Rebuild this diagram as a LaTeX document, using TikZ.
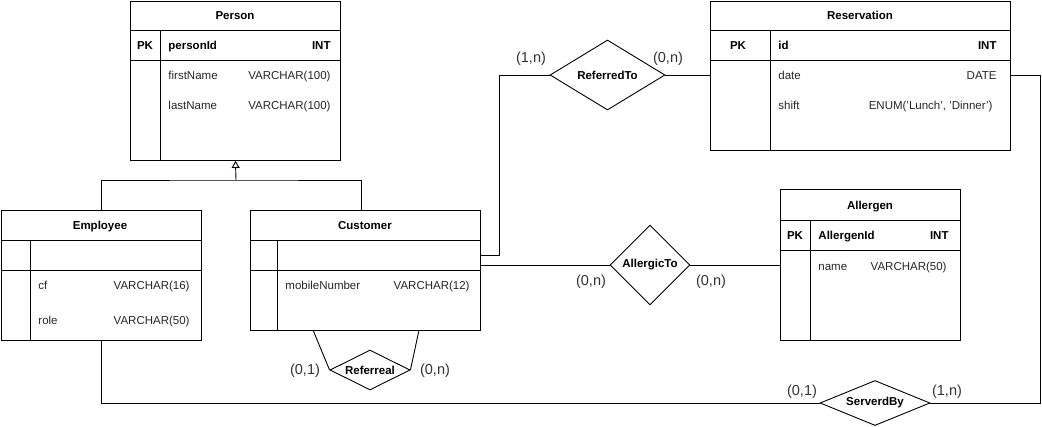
\documentclass[tikz,border=0pt]{standalone}
\usepackage{fontspec}
\setmainfont{Liberation Sans}
\usetikzlibrary{shapes.geometric}
\usetikzlibrary{arrows.meta}
\usetikzlibrary{calc}

\begin{document}
\begin{tikzpicture}[x=1pt, y=-1pt, line width=0.9pt]
	\tikzset{tablebox/.style = {draw, rectangle, anchor = north west, inner sep = 0},
		attr/.style = {inner sep = 0, text height = 10pt, text depth = 2pt, text = black!85, font = \fontsize{11.5}{13}\selectfont},
		keyattr/.style = {inner sep = 0, text height = 10pt, text depth = 2pt, font = \fontsize{11.5}{13}\selectfont\bfseries},
		relation/.style = {diamond, draw, inner sep = 0, fill = white, font = \fontsize{11.5}{13}\selectfont\bfseries},
		card/.style = {inner sep = 0, text = black!80, font = \fontsize{14.5}{16}\selectfont}}

\useasboundingbox (0,0) rectangle (1042,426);

%% Person table
\node[tablebox, minimum width = 210, minimum height = 159] (person) at (130,1) {};
\draw (130,30) -- (340,30) (130,60) -- (340,60) (160,30) -- (160,160);
\node[keyattr] (person title) at (235,15) {Person};
\node[keyattr] (person pk) at (145,45) {PK};
\node[keyattr, anchor = west] (person id) at (168,45) {personId};
\node[keyattr, anchor = east] (person id type) at (331,45) {INT};
\node[attr, anchor = west] (person first) at (168,75) {firstName};
\node[attr, anchor = east] (person first type) at (331,75) {VARCHAR(100)};
\node[attr, anchor = west] (person last) at (168,105) {lastName};
\node[attr, anchor = east] (person last type) at (331,105) {VARCHAR(100)};

%% Reservation table
\node[tablebox, minimum width = 300, minimum height = 149] (reservation) at (710,1) {};
\draw (710,30) -- (1010,30) (710,60) -- (1010,60) (770,30) -- (770,150);
\node[keyattr] (reservation title) at (860,15) {Reservation};
\node[keyattr] (reservation pk) at (738,45) {PK};
\node[keyattr, anchor = west] (reservation id) at (778,45) {id};
\node[keyattr, anchor = east] (reservation id type) at (997,45) {INT};
\node[attr, anchor = west] (reservation date) at (778,75) {date};
\node[attr, anchor = east] (reservation date type) at (997,75) {DATE};
\node[attr, anchor = west] (reservation shift) at (778,105) {shift};
\node[attr, anchor = east] (reservation shift type) at (993,105) {ENUM('Lunch', 'Dinner')};

%% Employee table
\node[tablebox, minimum width = 200, minimum height = 130] (employee) at (0.5,210) {};
\draw (0.5,240) -- (200.5,240) (0.5,270) -- (200.5,270) (30,240) -- (30,340);
\node[keyattr] (employee title) at (100,225) {Employee};
\node[attr, anchor = west] (employee cf) at (38,285) {cf};
\node[attr, anchor = east] (employee cf type) at (190,285) {VARCHAR(16)};
\node[attr, anchor = west] (employee role) at (38,320) {role};
\node[attr, anchor = east] (employee role type) at (190,320) {VARCHAR(50)};

%% Customer table
\node[tablebox, minimum width = 230, minimum height = 120] (customer) at (250,210) {};
\draw (250,240) -- (480,240) (250,270) -- (480,270) (277,240) -- (277,330);
\node[keyattr] (customer title) at (365,225) {Customer};
\node[attr, anchor = west] (customer mobile) at (285,285) {mobileNumber};
\node[attr, anchor = east] (customer mobile type) at (470,285) {VARCHAR(12)};

%% Allergen table
\node[tablebox, minimum width = 180, minimum height = 151] (allergen) at (780,189) {};
\draw (780,220) -- (960,220) (780,250) -- (960,250) (810,220) -- (810,340);
\node[keyattr] (allergen title) at (870,205) {Allergen};
\node[keyattr] (allergen pk) at (795,235) {PK};
\node[keyattr, anchor = west] (allergen id) at (818,235) {AllergenId};
\node[keyattr, anchor = east] (allergen id type) at (949,235) {INT};
\node[attr, anchor = west] (allergen name) at (818,266) {name};
\node[attr, anchor = east] (allergen name type) at (947,266) {VARCHAR(50)};

%% Relations
\node[relation, minimum width = 115, minimum height = 70, aspect = 1.6] (referredto) at (607.5,75) {ReferredTo};
\node[relation, minimum width = 80, minimum height = 80, aspect = 1] (allergicto) at (650,265) {AllergicTo};
\node[relation, minimum width = 80, minimum height = 40, aspect = 2] (referreal) at (370,370) {Referreal};
\node[relation, minimum width = 110, minimum height = 45, aspect = 2.4] (serverdby) at (875,403) {ServerdBy};

%% Connection points
\coordinate (isa) at (236,180);
\coordinate (customer ref) at (480,255);
\coordinate (customer allergy) at (480,265);
\coordinate (customer self a) at (313,330);
\coordinate (customer self b) at (419,330);
\coordinate (reservation out) at (1010,75);

%% Edges
\draw[-{Triangle[open, length = 7pt, width = 8pt]}] (isa) -- (person.south);
\draw (employee.north) |- (isa) -| ($(customer.north)+(-4,0)$);
\draw (customer ref) -| ($(referredto.west)+(-50,0)$) -- (referredto.west);
\draw (referredto.east) -- (reservation.west |- referredto.east);
\draw (customer allergy) -- (allergicto.west);
\draw (allergicto.east) -- (allergen.west |- allergicto.east);
\draw (customer self a) -- (referreal.west);
\draw (customer self b) -- (referreal.east);
\draw (employee.south) |- (serverdby.west);
\draw (reservation out) -| ($(serverdby.east)+(110,0)$) -- (serverdby.east);

%% Cardinalities
\node[card] (card ref cust) at (531,59) {(1,n)};
\node[card] (card ref res) at (668,59) {(0,n)};
\node[card] (card all cust) at (591,282) {(0,n)};
\node[card] (card all alg) at (711,282) {(0,n)};
\node[card] (card self a) at (305,371) {(0,1)};
\node[card] (card self b) at (435,371) {(0,n)};
\node[card] (card srv emp) at (802,392) {(0,1)};
\node[card] (card srv res) at (947,392) {(1,n)};
\end{tikzpicture}
\end{document}
